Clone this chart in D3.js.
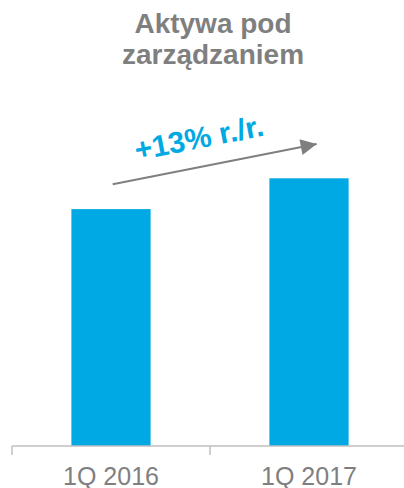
<!DOCTYPE html>
<html>
<head>
<meta charset="utf-8">
<title>Aktywa pod zarządzaniem</title>
<style>
body {
	margin: 0;
	padding: 0;
	background: #fff;
	font-family: "Liberation Sans", Arial, sans-serif;
}
svg {
	display: block;
}
</style>
</head>
<body>
<svg></svg>
<script src="https://cdn.jsdelivr.net/npm/d3@7/dist/d3.min.js"></script>
<script>

// data (relative values, 1Q 2016 = 100)
var categories = ["1Q 2016", "1Q 2017"];
var values = [100, 113];
var titleLines = ["Aktywa pod", "zarządzaniem"];
var growthLabel = "+13% r./r.";

var w = 404,
	h = 488;

var blue = "#00a9e3",
	grey = "#7f7f7f",
	axisGrey = "#bfbfbf";

var svg = d3.select("svg")
	.attr("width", w)
	.attr("height", h);

// scales
var x = d3.scaleBand()
	.domain(categories)
	.range([12, 408])
	.paddingInner(0.6)
	.paddingOuter(0.3);

var baseY = 446;
var y = d3.scaleLinear()
	.domain([0, d3.max(values)])
	.range([baseY, 178.3]);

// title
svg.append("text")
	.attr("text-anchor", "middle")
	.style("font-size", "28px")
	.style("font-weight", "bold")
	.style("fill", grey)
	.selectAll("tspan")
	.data(titleLines)
	.join("tspan")
		.attr("x", 213)
		.attr("y", function(d, i) { return 33 + i * 31; })
		.text(function(d) { return d; });

// bars
svg.selectAll(".bar")
	.data(values)
	.join("rect")
		.attr("class", "bar")
		.attr("x", function(d, i) { return x(categories[i]); })
		.attr("width", x.bandwidth())
		.attr("y", function(d) { return y(d); })
		.attr("height", function(d) { return baseY - y(d); })
		.style("fill", blue);

// axis: labels from d3.axisBottom, boundary ticks drawn by hand
var axis = svg.append("g")
	.attr("transform", "translate(0," + baseY + ")")
	.call(d3.axisBottom(x).tickSize(0).tickPadding(0));
axis.select(".domain").remove();
axis.selectAll("text")
	.attr("y", 39)
	.attr("dy", null)
	.style("font-family", "'Liberation Sans', Arial, sans-serif")
	.style("font-size", "25px")
	.style("fill", grey);

var step = x.step();
var bounds = categories.map(function(c) { return x(c) - step * x.paddingInner() / 2; });
bounds.push(bounds[bounds.length - 1] + step);

svg.append("line")
	.attr("x1", bounds[0]).attr("x2", w)
	.attr("y1", baseY).attr("y2", baseY)
	.style("stroke", axisGrey)
	.style("stroke-width", 1.5);
svg.selectAll(".tick-line")
	.data(bounds)
	.join("line")
		.attr("class", "tick-line")
		.attr("x1", function(d) { return d; })
		.attr("x2", function(d) { return d; })
		.attr("y1", baseY)
		.attr("y2", baseY + 9)
		.style("stroke", axisGrey)
		.style("stroke-width", 1.5);

// growth arrow
svg.append("defs").append("marker")
	.attr("id", "head")
	.attr("viewBox", "0 0 10 10")
	.attr("refX", 10)
	.attr("refY", 5)
	.attr("markerUnits", "userSpaceOnUse")
	.attr("markerWidth", 17)
	.attr("markerHeight", 16)
	.attr("orient", "auto")
	.append("path")
		.attr("d", "M0,0 L10,5 L0,10 Z")
		.style("fill", grey);

svg.append("line")
	.attr("x1", 112.7).attr("y1", 184.3)
	.attr("x2", 316.7).attr("y2", 144)
	.style("stroke", grey)
	.style("stroke-width", 2)
	.attr("marker-end", "url(#head)");

svg.append("text")
	.attr("transform", "translate(201,148) rotate(-11)")
	.attr("text-anchor", "middle")
	.style("font-size", "30px")
	.style("font-weight", "bold")
	.style("fill", blue)
	.text(growthLabel);

</script>
</body>
</html>
